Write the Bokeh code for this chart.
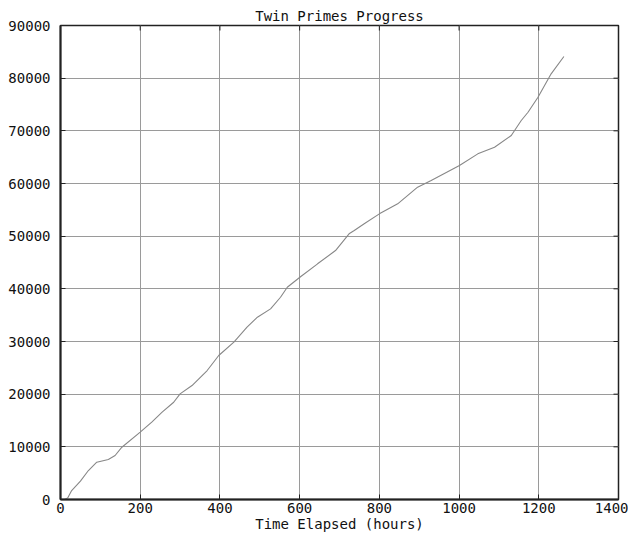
from bokeh.plotting import figure
from bokeh.models import Range1d, FixedTicker
from bokeh.embed import file_html
from bokeh.resources import INLINE

hours = [10, 18, 28, 50, 70, 91, 120, 137, 154, 200, 229, 255, 284, 300, 330,
         368, 397, 435, 468, 494, 527, 552, 569, 603, 645, 690, 724, 737, 762,
         800, 846, 896, 930, 1001, 1047, 1089, 1131, 1156, 1173, 1198, 1231, 1263]
twins = [0, 300, 1700, 3500, 5500, 7080, 7600, 8350, 9930, 12780, 14680, 16580,
         18470, 20060, 21640, 24490, 27340, 29870, 32720, 34610, 36200, 38400,
         40310, 42340, 44750, 47270, 50450, 51070, 52350, 54240, 56140, 59300,
         60570, 63410, 65630, 66890, 69110, 71960, 73530, 76380, 80820, 84110]
x_ticks = [0, 200, 400, 600, 800, 1000, 1200, 1400]
y_ticks = [0, 10000, 20000, 30000, 40000, 50000, 60000, 70000, 80000, 90000]

FONT = "DejaVu Sans Mono"
X0, X1, Y0, Y1 = 0, 1400, 0, 90000

p = figure(width=628, height=534, output_backend="svg", toolbar_location=None,
           x_range=Range1d(X0, X1), y_range=Range1d(Y0, Y1),
           title="Twin Primes Progress",
           min_border_left=60, min_border_right=10, min_border_top=25, min_border_bottom=35)

p.title.align = "center"
p.title.text_font = FONT
p.title.text_font_size = "14px"
p.title.text_font_style = "normal"
p.title.text_color = "#111111"
p.title.standoff = 4
p.title.offset = 0

p.line(hours, twins, line_color="#878787", line_width=1.1)

for ax in (p.xaxis[0], p.yaxis[0]):
    ax.major_label_text_font = FONT
    ax.major_label_text_font_size = "14px"
    ax.major_label_text_color = "#111111"
    ax.major_tick_in = 5
    ax.major_tick_out = 0
    ax.minor_tick_line_color = None
    ax.axis_line_color = "#222222"
    ax.axis_line_width = 2
    ax.major_tick_line_color = "#222222"

p.xaxis[0].ticker = FixedTicker(ticks=x_ticks)
p.yaxis[0].ticker = FixedTicker(ticks=y_ticks)
p.xaxis[0].major_label_standoff = 3
p.yaxis[0].major_label_standoff = 10
p.xaxis[0].axis_label = "Time Elapsed (hours)"
p.xaxis[0].axis_label_text_font = FONT
p.xaxis[0].axis_label_text_font_size = "14px"
p.xaxis[0].axis_label_text_font_style = "normal"
p.xaxis[0].axis_label_text_color = "#111111"
p.xaxis[0].axis_label_standoff = 0

# mirrored inward ticks on the top and right edges, taken from the tick lists
tick_dx = (X1 - X0) * 5 / 558
tick_dy = (Y1 - Y0) * 5 / 474
p.segment(x0=x_ticks, y0=[Y1] * len(x_ticks), x1=x_ticks, y1=[Y1 - tick_dy] * len(x_ticks),
          line_color="#222222", line_width=1)
p.segment(x0=[X1] * len(y_ticks), y0=y_ticks, x1=[X1 - tick_dx] * len(y_ticks), y1=y_ticks,
          line_color="#222222", line_width=1)

p.xgrid.ticker = FixedTicker(ticks=x_ticks)
p.ygrid.ticker = FixedTicker(ticks=y_ticks)
p.grid.grid_line_color = "#9a9a9a"
p.grid.grid_line_width = 1
p.outline_line_color = "#222222"
p.outline_line_width = 1.5
p.background_fill_color = "white"
p.border_fill_color = "white"

open("out.html", "w").write(file_html(p, INLINE))
